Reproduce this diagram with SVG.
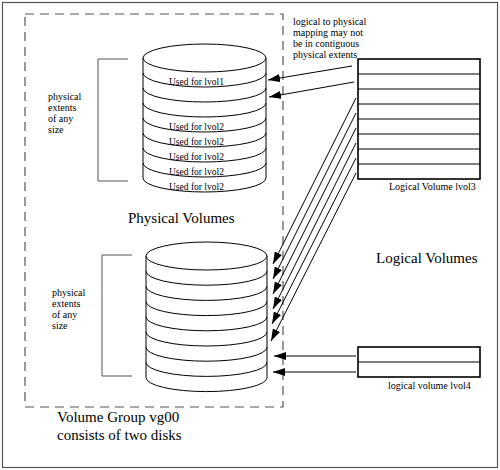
<svg xmlns="http://www.w3.org/2000/svg" width="500" height="470" viewBox="0 0 500 470">
<style>
.frame{fill:none;stroke:#555;stroke-width:1.2}
.vg{fill:none;stroke:#555;stroke-width:1.2;stroke-dasharray:9,6}
.disk{fill:#fff;stroke:#000;stroke-width:1}
.band{fill:none;stroke:#000;stroke-width:1}
.brk{fill:none;stroke:#555;stroke-width:1}
.lv{fill:#fff;stroke:#000;stroke-width:1.6}
.row{stroke:#000;stroke-width:1}
.arr{stroke:#000;stroke-width:1;fill:none;marker-end:url(#ah)}
.s{font-family:"Liberation Serif","Times New Roman",serif;font-size:10px;fill:#000}
.u{font-family:"Liberation Serif","Times New Roman",serif;font-size:9.5px;fill:#000}
.b{font-family:"Liberation Serif","Times New Roman",serif;font-size:15px;fill:#000}
</style>
<defs>
<marker id="ah" markerUnits="userSpaceOnUse" markerWidth="13" markerHeight="8" refX="12" refY="4" orient="auto">
<path d="M0,0 L12,4 L0,8 z" fill="#000"/>
</marker>
</defs>
<rect class="frame" x="2.5" y="2.5" width="495" height="465"/>
<g id="volume-group">
<rect class="vg" x="25" y="14" width="258" height="393"/>
<text class="b" x="57" y="422">Volume Group vg00</text>
<text class="b" x="57" y="440">consists of two disks</text>
</g>
<g id="pv-label"><text class="b" x="128" y="223">Physical Volumes</text></g>
<g id="lv-label"><text class="b" x="376" y="263">Logical Volumes</text></g>
<g id="bracket1">
<polyline class="brk" points="128,59 98,59 98,181 128,181"/>
<text class="s" x="48" y="100">physical</text>
<text class="s" x="48" y="111">extents</text>
<text class="s" x="48" y="122">of any</text>
<text class="s" x="48" y="133">size</text>
</g>
<g id="bracket2">
<polyline class="brk" points="132,255 102,255 102,376 132,376"/>
<text class="s" x="52" y="296">physical</text>
<text class="s" x="52" y="307">extents</text>
<text class="s" x="52" y="318">of any</text>
<text class="s" x="52" y="329">size</text>
</g>
<g id="disk1">
<path class="disk" d="M143,58 L143,178 A61.5,14 0 0 0 266,178 L266,58 Z"/>
<ellipse class="disk" cx="204.5" cy="58" rx="61.5" ry="14"/>
<path class="band" d="M143,73 A61.5,14 0 0 0 266,73 M143,88 A61.5,14 0 0 0 266,88 M143,103 A61.5,14 0 0 0 266,103 M143,118 A61.5,14 0 0 0 266,118 M143,133 A61.5,14 0 0 0 266,133 M143,148 A61.5,14 0 0 0 266,148 M143,163 A61.5,14 0 0 0 266,163"/>
<text class="u" x="169" y="85">Used for lvol1</text>
<text class="u" x="169" y="130">Used for lvol2</text>
<text class="u" x="169" y="145">Used for lvol2</text>
<text class="u" x="169" y="160">Used for lvol2</text>
<text class="u" x="169" y="175">Used for lvol2</text>
<text class="u" x="169" y="190">Used for lvol2</text>
</g>
<g id="disk2">
<path class="disk" d="M146,256 L146,377.6 A60.5,14 0 0 0 267,377.6 L267,256 Z"/>
<ellipse class="disk" cx="206.5" cy="256" rx="60.5" ry="14"/>
<path class="band" d="M146,271.2 A60.5,14 0 0 0 267,271.2 M146,286.4 A60.5,14 0 0 0 267,286.4 M146,301.6 A60.5,14 0 0 0 267,301.6 M146,316.8 A60.5,14 0 0 0 267,316.8 M146,332 A60.5,14 0 0 0 267,332 M146,347.2 A60.5,14 0 0 0 267,347.2 M146,362.4 A60.5,14 0 0 0 267,362.4"/>
</g>
<g id="note">
<text class="s" x="293" y="25">logical to physical</text>
<text class="s" x="293" y="36">mapping may not</text>
<text class="s" x="293" y="47">be in contiguous</text>
<text class="s" x="293" y="58">physical extents</text>
</g>
<g id="lvol3">
<rect class="lv" x="358" y="59" width="122" height="120"/>
<path class="row" d="M358,74H480M358,89H480M358,104H480M358,119H480M358,134H480M358,149H480M358,164H480"/>
<text class="s" x="389" y="190">Logical Volume lvol3</text>
</g>
<g id="lvol4">
<rect class="lv" x="358" y="347" width="122" height="30"/>
<path class="row" d="M358,362H480"/>
<text class="s" x="388" y="389">logical volume lvol4</text>
</g>
<g id="connectors">
<line class="arr" x1="352" y1="66" x2="268" y2="80"/>
<line class="arr" x1="354" y1="82" x2="269" y2="97"/>
<line class="arr" x1="356" y1="98" x2="273" y2="264"/>
<line class="arr" x1="356" y1="113" x2="273" y2="279"/>
<line class="arr" x1="356" y1="128" x2="273" y2="294"/>
<line class="arr" x1="356" y1="143" x2="273" y2="309"/>
<line class="arr" x1="356" y1="158" x2="272" y2="324"/>
<line class="arr" x1="356" y1="173" x2="271" y2="341"/>
<line class="arr" x1="356" y1="356" x2="274" y2="356"/>
<line class="arr" x1="356" y1="372" x2="273" y2="372"/>
</g>
</svg>
